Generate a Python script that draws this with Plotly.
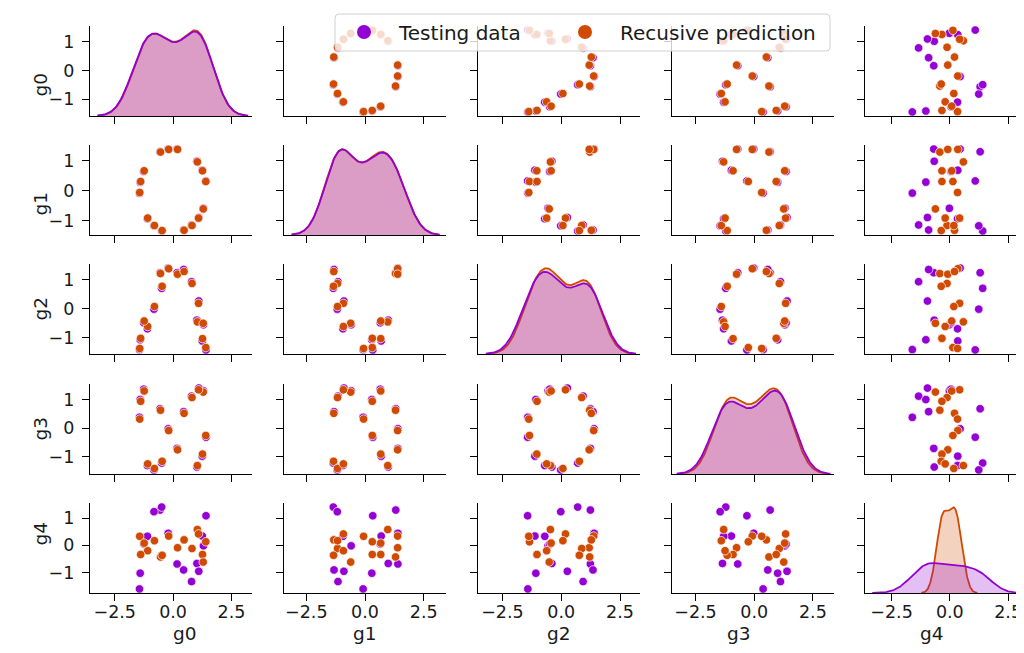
import numpy as np
import plotly.graph_objects as go

VARS = ["g0", "g1", "g2", "g3", "g4"]
GROUPS = ["Testing data", "Recusive prediction"]
COLORS = ["#9400d3", "#d04a02"]
FILLS = ["rgba(148,0,211,0.25)", "rgba(208,74,2,0.25)"]

# testing data (16 samples)
test_g0 = [-0.56, -0.21, 0.17, 1.02, 1.25, 1.41, 1.30, 1.10, 0.79, 0.45, -0.49, -0.82, -1.10, -1.44, -1.41, -1.26]
test_g1 = [1.31, 1.40, 1.40, 0.99, 0.69, 0.33, -0.59, -0.90, -1.15, -1.32, -1.35, -1.18, -0.94, -0.08, 0.29, 0.65]
test_g2 = [1.24, 1.40, 1.24, -0.40, -1.12, -1.43, -0.56, 0.26, 0.93, 1.35, 0.70, -0.02, -0.70, -1.42, -1.08, -0.49]
test_g3 = [0.68, -0.02, -0.70, -1.35, -0.97, -0.31, 1.31, 1.40, 1.12, 0.58, -1.21, -1.45, -1.30, 0.38, 1.00, 1.36]
test_g4 = [1.30, 0.44, -0.69, -0.67, 0.34, 1.09, -0.02, -0.96, -1.34, -0.91, 1.41, 1.24, 0.33, -1.61, -1.03, 0.05]

# recursive prediction (same samples)
pred_g0 = [-0.54, -0.19, 0.19, 1.04, 1.26, 1.40, 1.29, 1.09, 0.81, 0.47, -0.47, -0.80, -1.09, -1.43, -1.39, -1.24]
pred_g1 = [1.30, 1.39, 1.39, 0.97, 0.67, 0.31, -0.61, -0.92, -1.17, -1.33, -1.34, -1.17, -0.92, -0.06, 0.31, 0.67]
pred_g2 = [1.21, 1.38, 1.19, -0.46, -1.04, -1.35, -0.51, 0.18, 0.87, 1.28, 0.77, 0.07, -0.62, -1.38, -1.03, -0.43]
pred_g3 = [0.63, -0.08, -0.75, -1.30, -0.90, -0.25, 1.26, 1.34, 1.07, 0.52, -1.15, -1.40, -1.24, 0.32, 0.94, 1.30]
pred_g4 = [-0.43, 0.34, -0.09, 0.58, -0.34, 0.13, -0.62, 0.42, -0.12, 0.20, -0.37, 0.17, -0.20, 0.33, -0.34, 0.08]

data = [
    dict(zip(VARS, [test_g0, test_g1, test_g2, test_g3, test_g4])),
    dict(zip(VARS, [pred_g0, pred_g1, pred_g2, pred_g3, pred_g4])),
]

W, H = 1024, 653
COL_LEFT = [82, 276, 470, 664, 857]
COL_W = 162
ROW_TOP = [18, 137, 256, 376, 495]
ROW_H = 90
# shared x limits of each column
X_RANGES = [[-3.56, 3.38], [-3.45, 3.45], [-3.54, 3.35], [-3.5, 3.4], [-3.64, 3.31]]
LEGEND_BOX = (327, 6, 822, 43)   # px: left, top, right, bottom
LEGEND_LEFT = [321, 542]
FONT = "DejaVu Sans"
TXT = "#1a1a1a"
N_ALL = sum(len(d["g0"]) for d in data)


def kde(values, cut=3, gridsize=200):
    v = np.asarray(values, float)
    bw = v.std(ddof=1) * len(v) ** (-1 / 5)
    grid = np.linspace(v.min() - cut * bw, v.max() + cut * bw, gridsize)
    dens = np.exp(-0.5 * ((grid[:, None] - v[None, :]) / bw) ** 2).sum(1)
    dens /= len(v) * bw * np.sqrt(2 * np.pi)
    return grid, dens * len(v) / N_ALL


def padded(lo, hi, m=0.05):
    d = (hi - lo) * m
    return [lo - d, hi + d]


kdes = {v: [kde(d[v]) for d in data] for v in VARS}
y_ranges = {v: padded(min(min(d[v]) for d in data), max(max(d[v]) for d in data)) for v in VARS}

fig = go.Figure()
layout = {}

for i, vy in enumerate(VARS):
    for j, vx in enumerate(VARS):
        k = i * 5 + j + 1
        xa, ya = f"x{k}", f"y{k}"
        x0 = COL_LEFT[j] / W
        y1 = 1 - ROW_TOP[i] / H
        xdom = [x0, x0 + COL_W / W]
        ydom = [y1 - ROW_H / H, y1]
        common = dict(showline=True, linecolor="black", linewidth=1.3, ticks="outside",
                      ticklen=7, tickwidth=1.3, tickcolor="black", showgrid=False,
                      zeroline=False, tickfont=dict(family=FONT, size=17.5, color=TXT))
        layout[f"xaxis{k}"] = dict(common, domain=xdom, anchor=ya,
                                   range=X_RANGES[j], tickvals=[-2.5, 0, 2.5],
                                   ticktext=["\u22122.5", "0.0", "2.5"],
                                   ticklabelstandoff=-4,
                                   showticklabels=(i == 4))
        layout[f"yaxis{k}"] = dict(common, domain=ydom, anchor=xa,
                                   range=y_ranges[vy], tickvals=[-1, 0, 1],
                                   ticklabelstandoff=4,
                                   showticklabels=(j == 0))
        if i == j:
            oid = 25 + i + 1
            top = max(dn.max() for _, dn in kdes[vx]) * 1.05
            layout[f"yaxis{oid}"] = dict(overlaying=ya, anchor=xa, domain=ydom,
                                         range=[0, top], visible=False,
                                         showgrid=False, zeroline=False)
            # keep the base subplot alive so the overlay sits on it
            fig.add_trace(go.Scatter(x=[None], y=[None], xaxis=xa, yaxis=ya,
                                     mode="markers", showlegend=False, hoverinfo="skip"))
            for g in (1, 0):
                grid, dens = kdes[vx][g]
                fig.add_trace(go.Scatter(x=grid, y=dens, xaxis=xa, yaxis=f"y{oid}",
                                         mode="lines", fill="tozeroy", fillcolor=FILLS[g],
                                         line=dict(color=COLORS[g], width=1.8),
                                         showlegend=False, hoverinfo="skip"))
        else:
            for g in (0, 1):
                fig.add_trace(go.Scatter(x=data[g][vx], y=data[g][vy], xaxis=xa, yaxis=ya,
                                         mode="markers", showlegend=False,
                                         marker=dict(size=8.5, color=COLORS[g],
                                                     line=dict(color="white", width=0.7))))

# legend entries, one legend each so their spacing can be set
legend_names = ["legend", "legend2"]
for g in (0, 1):
    fig.add_trace(go.Scatter(x=[None], y=[None], mode="markers", name=GROUPS[g],
                             legend=legend_names[g], marker=dict(size=14, color=COLORS[g])))

annotations = []
for j, v in enumerate(VARS):
    annotations.append(dict(text=v, x=(COL_LEFT[j] + COL_W / 2) / W, y=1 - 638 / H,
                            xref="paper", yref="paper", showarrow=False,
                            font=dict(family=FONT, size=18.5, color=TXT)))
for i, v in enumerate(VARS):
    annotations.append(dict(text=v, x=19 / W, y=1 - (ROW_TOP[i] + ROW_H / 2) / H,
                            xref="paper", yref="paper", showarrow=False, textangle=-90,
                            font=dict(family=FONT, size=18.5, color=TXT)))

# legend frame (rounded, semi-transparent, drawn over the panels)
l, t, r, b = LEGEND_BOX
rad = 4
px = lambda x: x / W
py = lambda y: 1 - y / H
frame = (f"M {px(l + rad)},{py(t)} L {px(r - rad)},{py(t)} Q {px(r)},{py(t)} {px(r)},{py(t + rad)} "
         f"L {px(r)},{py(b - rad)} Q {px(r)},{py(b)} {px(r - rad)},{py(b)} "
         f"L {px(l + rad)},{py(b)} Q {px(l)},{py(b)} {px(l)},{py(b - rad)} "
         f"L {px(l)},{py(t + rad)} Q {px(l)},{py(t)} {px(l + rad)},{py(t)} Z")
shapes = [dict(type="path", path=frame, xref="paper", yref="paper", layer="above",
               fillcolor="rgba(255,255,255,0.8)", line=dict(color="#d0d0d0", width=1))]

legend_common = dict(orientation="h", xanchor="left", y=1 - 24 / H, yanchor="middle",
                     itemwidth=60, bgcolor="rgba(0,0,0,0)", borderwidth=0,
                     font=dict(family=FONT, size=20, color=TXT))

fig.update_layout(
    **layout,
    width=W, height=H,
    margin=dict(l=0, r=0, t=0, b=0),
    plot_bgcolor="white", paper_bgcolor="white",
    annotations=annotations,
    shapes=shapes,
    legend=dict(legend_common, x=LEGEND_LEFT[0] / W),
    legend2=dict(legend_common, x=LEGEND_LEFT[1] / W),
)

fig.write_html("out.html")
